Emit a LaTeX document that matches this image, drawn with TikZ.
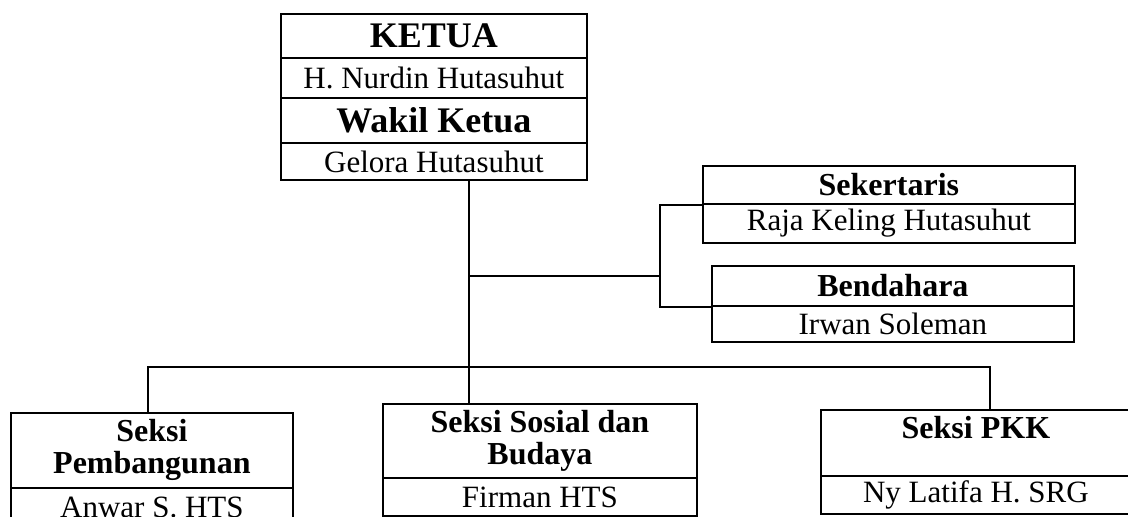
\documentclass[tikz,border=0pt]{standalone}
\usepackage{fontspec}
\setmainfont{Liberation Serif}
\begin{document}
\begin{tikzpicture}[x=1pt,y=-1pt,
  box/.style={draw, line width=1.8pt, inner sep=0pt, align=center, anchor=north west},
  hdbig/.style={box, font=\fontsize{36}{36}\selectfont\bfseries},
  hd/.style={box, font=\fontsize{32}{32}\selectfont\bfseries},
  nm/.style={box, font=\fontsize{31}{36}\selectfont},
  conn/.style={line width=1.4pt}]
\useasboundingbox (0,0) rectangle (1128,517);
\clip (0,0) rectangle (1128,517);
% top box
\node[hdbig, minimum width=306pt, minimum height=44pt] (ketua) at (280,13) {KETUA};
\node[nm, minimum width=306pt, minimum height=40pt] (nurdin) at (280,57) {H. Nurdin Hutasuhut};
\node[hdbig, minimum width=306pt, minimum height=45pt] (wakil) at (280,97) {Wakil Ketua};
\node[nm, minimum width=306pt, minimum height=37pt] (gelora) at (280,142) {Gelora Hutasuhut};
% sekertaris
\node[hd, minimum width=372pt, minimum height=38pt] (sekh) at (702,165) {Sekertaris};
\node[nm, minimum width=372pt, minimum height=39pt] (sekn) at (702,203) {Raja Keling Hutasuhut};
% bendahara
\node[hd, minimum width=362pt, minimum height=40pt] (benh) at (711,265) {Bendahara};
\node[nm, minimum width=362pt, minimum height=36pt] (benn) at (711,305) {Irwan Soleman};
% bottom boxes
\node[hd, minimum width=282pt, minimum height=75pt] (pembh) at (10,412) {Seksi\\Pembangunan};
\node[nm, minimum width=282pt, minimum height=40pt] (pembn) at (10,487) {Anwar S. HTS};
\node[hd, minimum width=314pt, minimum height=74pt] (sosh) at (382,403) {Seksi Sosial dan\\Budaya};
\node[nm, minimum width=314pt, minimum height=38pt] (sosn) at (382,477) {Firman HTS};
\node[hd, minimum width=310pt, minimum height=66pt] (pkkh) at (820,409) {Seksi PKK\\\mbox{}};
\node[nm, minimum width=310pt, minimum height=38pt] (pkkn) at (820,475) {Ny Latifa H. SRG};
% connectors
\coordinate (j1) at (469,276);
\coordinate (j2) at (660,276);
\coordinate (busL) at (148,367);
\coordinate (busR) at (990,367);
\draw[conn] (gelora.south -| j1) -- (sosh.north -| j1);
\draw[conn] (j1) -- (j2);
\draw[conn] (sekh.south west) -- (sekh.south west -| j2) -- (benh.south west -| j2) -- (benh.south west);
\draw[conn] (pembh.north -| busL) -- (busL) -- (busR) -- (pkkh.north -| busR);
\end{tikzpicture}
\end{document}
